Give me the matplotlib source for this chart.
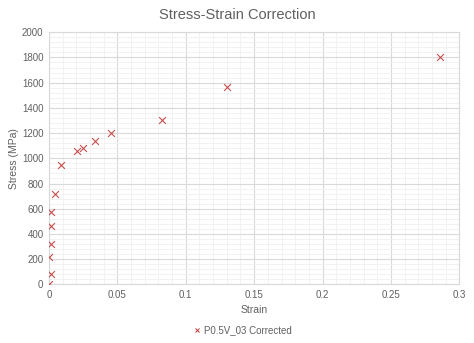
import matplotlib
matplotlib.use("Agg")
import matplotlib.pyplot as plt
from matplotlib.ticker import MultipleLocator, FuncFormatter

# 応力-ひずみ補正データ
strain = [0.0, 0.0012, 0.0, 0.0012, 0.0012, 0.0012, 0.0042, 0.0088,
          0.0207, 0.0249, 0.0339, 0.0454, 0.0827, 0.130, 0.286]
stress = [0, 85, 217, 323, 466, 574, 720, 944,
          1058, 1085, 1140, 1198, 1307, 1569, 1804]
series_name = "P0.5V_03 Corrected"

text_color = "#606060"
marker_color = "#C84E4E"

plt.rcParams['font.family'] = ['Liberation Sans', 'DejaVu Sans']

fig = plt.figure(figsize=(4.74, 3.43), dpi=100)
ax = fig.add_axes([0.1034, 0.171, 0.8656, 0.735])

ax.scatter(strain, stress, marker='x', s=24, color=marker_color,
           linewidths=0.8, label=series_name, zorder=3)

ax.set_xlim(0, 0.3)
ax.set_ylim(0, 2000)
ax.xaxis.set_major_locator(MultipleLocator(0.05))
ax.xaxis.set_minor_locator(MultipleLocator(0.01))
ax.yaxis.set_major_locator(MultipleLocator(200))
ax.yaxis.set_minor_locator(MultipleLocator(40))
ax.xaxis.set_major_formatter(FuncFormatter(lambda v, p: f"{v:g}"))

ax.grid(which='major', color='#d9d9d9', linewidth=0.8)
ax.grid(which='minor', color='#f0f0f0', linewidth=0.6)
ax.set_axisbelow(True)

for s in ax.spines.values():
    s.set_color('#d9d9d9')
    s.set_linewidth(0.8)

ax.tick_params(which='both', length=0, labelsize=7, colors=text_color, pad=4)

ax.set_xlabel("Strain", fontsize=7.5, color=text_color, labelpad=4)
ax.set_ylabel("Stress (MPa)", fontsize=7.5, color=text_color, labelpad=2)
fig.text(0.5, 0.955, "Stress-Strain Correction", ha='center', va='center',
         fontsize=10.5, color=text_color)

leg = fig.legend(loc='center', bbox_to_anchor=(0.505, 0.038), frameon=False,
                 fontsize=7, handletextpad=-0.3, markerscale=0.6)
for t in leg.get_texts():
    t.set_color(text_color)

fig.savefig("out.png", dpi=100)
